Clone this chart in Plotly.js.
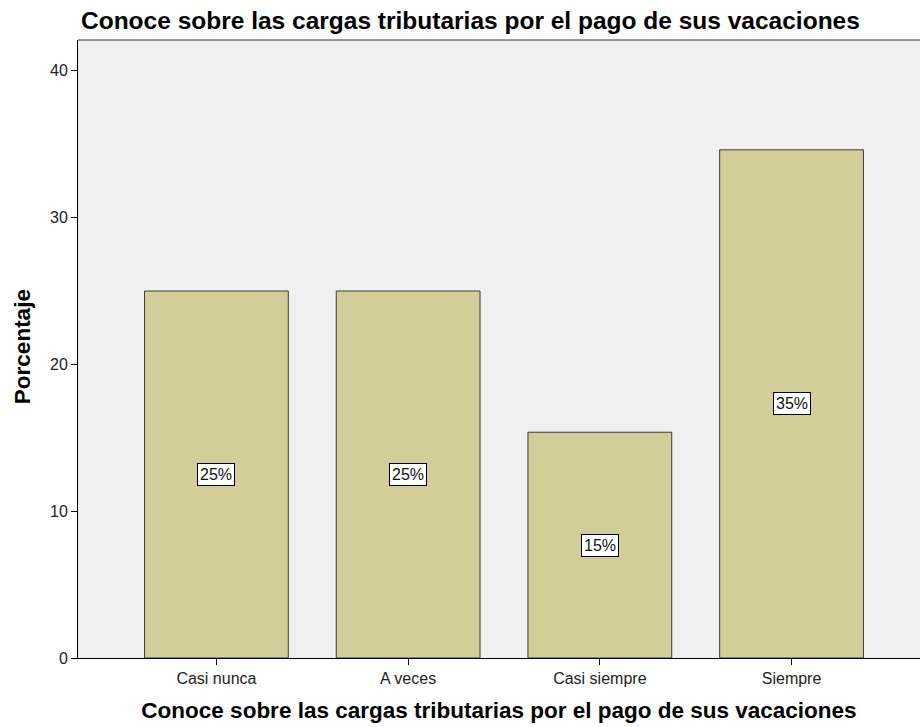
<!DOCTYPE html>
<html>
<head>
<meta charset="utf-8">
<script src="https://cdn.plot.ly/plotly-3.0.1.min.js"></script>
<style>html,body{margin:0;padding:0;background:#fff;}#chart{width:920px;height:727px;}</style>
</head>
<body>
<div id="chart"></div>
<script>
const categories = ["Casi nunca", "A veces", "Casi siempre", "Siempre"];
const percentages = [25.0, 25.0, 15.38, 34.62];
const barLabels = ["25%", "25%", "15%", "35%"];
const yTickValues = [0, 10, 20, 30, 40];
const chartTitle = "Conoce sobre las cargas tributarias por el pago de sus vacaciones";
const xTitle = "Conoce sobre las cargas tributarias por el pago de sus vacaciones";
const yTitle = "Porcentaje";

const FONT = 'Liberation Sans, Arial, sans-serif';
const catIdx = categories.map((c, i) => i);

const trace = {
  type: 'bar',
  x: catIdx,
  y: percentages,
  width: 0.75,
  marker: {color: '#d3ce97', line: {color: '#3a3a3a', width: 1}},
  hoverinfo: 'none'
};

const annotations = percentages.map((v, i) => ({
  x: i, y: v / 2, xref: 'x', yref: 'y',
  text: barLabels[i], showarrow: false,
  font: {family: FONT, size: 16, color: '#111'},
  bgcolor: '#ffffff', bordercolor: '#000000', borderwidth: 1, borderpad: 2
}));

annotations.push({
  xref: 'paper', yref: 'paper', x: -0.0665, y: 0.503, xanchor: 'center', yanchor: 'middle',
  text: '<b>' + yTitle + '</b>', textangle: -90, showarrow: false,
  font: {family: FONT, size: 22.5, color: '#000'}
});

const layout = {
  width: 920, height: 727,
  margin: {l: 78, r: 0, t: 40, b: 69},
  paper_bgcolor: '#ffffff',
  plot_bgcolor: '#f0f0f0',
  showlegend: false,
  title: {
    text: '<b>' + chartTitle + '</b>',
    xref: 'container', yref: 'container',
    x: 81 / 920, xanchor: 'left', y: 1 - 20 / 727, yanchor: 'middle',
    font: {family: FONT, size: 24.5, color: '#000'}
  },
  xaxis: {
    range: [-0.722, 3.67],
    tickmode: 'array', tickvals: catIdx, ticktext: categories,
    ticks: 'outside', ticklen: 6, tickcolor: '#000', tickwidth: 1,
    showline: true, linecolor: '#000', linewidth: 1,
    showgrid: false, zeroline: false,
    tickfont: {family: FONT, size: 16, color: '#222'},
    title: {text: '<b>' + xTitle + '</b>', standoff: 16,
      font: {family: FONT, size: 22.5, color: '#000'}},
    automargin: false,
    fixedrange: true
  },
  yaxis: {
    range: [0, 42.1],
    tickmode: 'array', tickvals: yTickValues,
    ticks: 'outside', ticklen: 6, tickcolor: '#000', tickwidth: 1,
    showline: true, linecolor: '#000', linewidth: 1,
    showgrid: false, zeroline: false,
    tickfont: {family: FONT, size: 16, color: '#222'},
    automargin: false,
    fixedrange: true
  },
  shapes: [{type: 'line', xref: 'paper', yref: 'paper', x0: 0, x1: 1, y0: 1, y1: 1,
    line: {color: '#777', width: 1.5}}],
  annotations: annotations,
  bargap: 0.25
};

Plotly.newPlot('chart', [trace], layout, {displayModeBar: false, staticPlot: true});
</script>
</body>
</html>
